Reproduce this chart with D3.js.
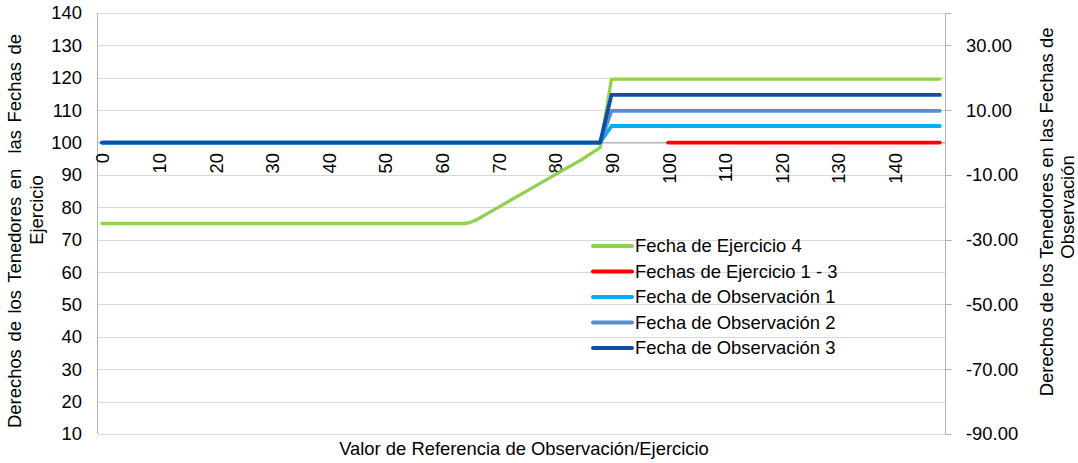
<!DOCTYPE html>
<html lang="es">
<head>
  <meta charset="UTF-8">
  <title>Derechos de los Tenedores</title>
  <style>
    body { margin: 0; background: #fff; }
    text { font-family: "Liberation Sans", Arial, sans-serif; fill: #000; font-size: 18.4px; }
    .line { fill: none; stroke-linecap: round; stroke-linejoin: round; }
  </style>
</head>
<body>
  <div id="chart"></div>
  <script src="https://cdn.jsdelivr.net/npm/d3@7"></script>
  <script>
    // tick labels
    const xTickLabels = [0, 10, 20, 30, 40, 50, 60, 70, 80, 90, 100, 110, 120, 130, 140];
    const leftTicks = [10, 20, 30, 40, 50, 60, 70, 80, 90, 100, 110, 120, 130, 140];
    const rightTicks = [-90, -70, -50, -30, -10, 10, 30];

    // series, [valor de referencia, derecho]
    const ejercicio4 = [[0, 75], [64, 75], [65, 75.3], [66, 76], [70, 80], [75, 85], [80, 90], [85, 95], [88, 98.4], [90, 119.6], [148, 119.6]];
    const ejercicio13 = [[100, 0], [148, 0]];
    const observacion1 = [[0, 0], [88, 0], [90, 5.1], [148, 5.1]];
    const observacion2 = [[0, 0], [88, 0], [90, 9.8], [148, 9.8]];
    const observacion3 = [[0, 0], [88, 0], [90, 14.7], [148, 14.7]];

    const series = [
      { name: "Fecha de Ejercicio 4", data: ejercicio4, color: "#92D050", axis: "left", w: 3.3 },
      { name: "Fechas de Ejercicio 1 - 3", data: ejercicio13, color: "#FF0000", axis: "right", w: 3.8 },
      { name: "Fecha de Observación 1", data: observacion1, color: "#00B0F0", axis: "right", w: 3.8 },
      { name: "Fecha de Observación 2", data: observacion2, color: "#558ED5", axis: "right", w: 3.8 },
      { name: "Fecha de Observación 3", data: observacion3, color: "#0D4FA3", axis: "right", w: 3.8 }
    ];

    const W = 1078, H = 463;
    const plot = { left: 98, right: 945.5, top: 13, bottom: 434 };

    const svg = d3.select("#chart").append("svg")
      .attr("width", W)
      .attr("height", H);

    const x = d3.scaleLinear().domain([-0.7, 149]).range([plot.left, plot.right]);
    const yL = d3.scaleLinear().domain([10, 140]).range([plot.bottom, plot.top]);
    const yR = d3.scaleLinear().domain([-90, 40]).range([plot.bottom, plot.top]);

    // gridlines
    svg.append("g").selectAll("line")
      .data(leftTicks)
      .enter().append("line")
      .attr("x1", plot.left).attr("x2", plot.right)
      .attr("y1", d => Math.round(yL(d)) + 0.5).attr("y2", d => Math.round(yL(d)) + 0.5)
      .attr("stroke", "#D9D9D9").attr("stroke-width", 1);

    // axis lines
    svg.append("line")
      .attr("x1", plot.left - 0.5).attr("x2", plot.left - 0.5)
      .attr("y1", plot.top).attr("y2", plot.bottom)
      .attr("stroke", "#B3B3B3");
    svg.append("line")
      .attr("x1", plot.right).attr("x2", plot.right)
      .attr("y1", plot.top).attr("y2", plot.bottom + 0.5)
      .attr("stroke", "#B3B3B3");

    // left axis labels
    svg.append("g").selectAll("text")
      .data(leftTicks)
      .enter().append("text")
      .attr("x", 82)
      .attr("y", d => yL(d))
      .attr("dy", "0.35em")
      .attr("text-anchor", "end")
      .text(d => d);

    // right axis ticks + labels
    svg.append("g").selectAll("line")
      .data(rightTicks.concat([40]))
      .enter().append("line")
      .attr("x1", plot.right).attr("x2", plot.right + 6)
      .attr("y1", d => Math.round(yR(d)) + 0.5).attr("y2", d => Math.round(yR(d)) + 0.5)
      .attr("stroke", "#B3B3B3");
    svg.append("g").selectAll("text")
      .data(rightTicks)
      .enter().append("text")
      .attr("x", 966)
      .attr("y", d => yR(d))
      .attr("dy", "0.35em")
      .text(d => d3.format(".2f")(d).replace("\u2212", "-"));

    // category axis crossing at 100
    svg.append("line")
      .attr("x1", plot.left).attr("x2", plot.right)
      .attr("y1", yL(100)).attr("y2", yL(100))
      .attr("stroke", "#B3B3B3");

    svg.append("g").selectAll("text")
      .data(xTickLabels)
      .enter().append("text")
      .attr("transform", d => `translate(${x(d) + 1}, ${yL(100) + 10.5}) rotate(-90)`)
      .attr("dy", "0.35em")
      .attr("text-anchor", "end")
      .text(d => d);

    // lines
    series.forEach(s => {
      const yScale = s.axis === "left" ? yL : yR;
      const line = d3.line().x(d => x(d[0])).y(d => yScale(d[1]));
      svg.append("path")
        .datum(s.data)
        .attr("class", "line")
        .attr("d", line)
        .attr("stroke", s.color)
        .attr("stroke-width", s.w);
    });

    // legend
    const legend = svg.append("g").attr("transform", "translate(593, 246)");
    series.forEach((s, i) => {
      const item = legend.append("g").attr("transform", `translate(0, ${i * 25.5})`);
      item.append("line")
        .attr("x1", 0).attr("x2", 39)
        .attr("y1", 0).attr("y2", 0)
        .attr("stroke", s.color)
        .attr("stroke-width", 4)
        .attr("stroke-linecap", "round");
      item.append("text")
        .attr("x", 42)
        .attr("y", 0)
        .attr("dy", "0.35em")
        .text(s.name);
    });

    // axis titles
    svg.append("text")
      .attr("x", 524).attr("y", 455)
      .attr("text-anchor", "middle")
      .text("Valor de Referencia de Observación/Ejercicio");

    // rotated titles: in the rotated frame x = -centre y, y = baseline x
    const leftTitle = svg.append("g").attr("transform", "rotate(-90)");
    leftTitle.append("text")
      .attr("x", -231).attr("y", 21)
      .attr("text-anchor", "middle")
      .style("white-space", "pre")
      .style("word-spacing", "2.5px")
      .text("Derechos de los Tenedores en  las Fechas de");
    leftTitle.append("text")
      .attr("x", -210).attr("y", 42.5)
      .attr("text-anchor", "middle")
      .text("Ejercicio");

    const rightTitle = svg.append("g").attr("transform", "rotate(-90)");
    rightTitle.append("text")
      .attr("x", -212).attr("y", 1053)
      .attr("text-anchor", "middle")
      .text("Derechos de los Tenedores en las Fechas de");
    rightTitle.append("text")
      .attr("x", -207).attr("y", 1074)
      .attr("text-anchor", "middle")
      .text("Observación");
  </script>
</body>
</html>
